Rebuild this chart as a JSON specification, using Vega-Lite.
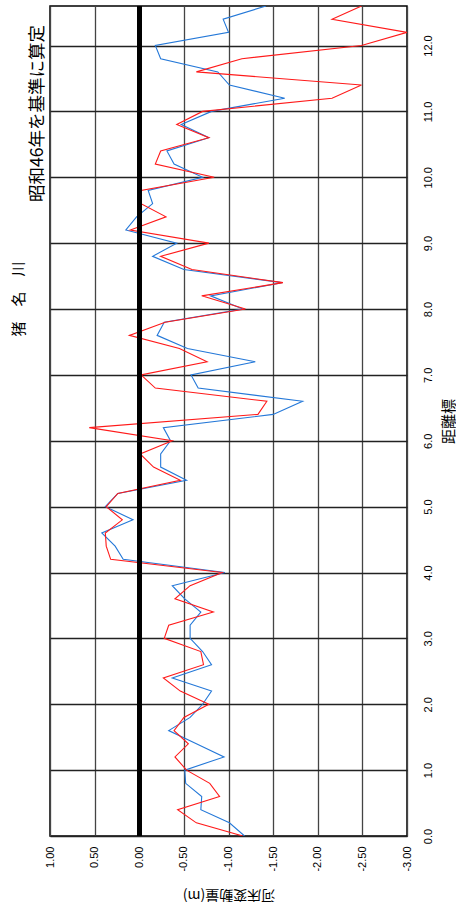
{
  "$schema": "https://vega.github.io/schema/vega-lite/v6.json",
  "width": 357,
  "height": 830,
  "padding": {"left": 11, "top": 4, "right": 0, "bottom": 0},
  "background": "white",
  "config": {
    "view": {"stroke": "black", "strokeWidth": 1.5},
    "font": "Liberation Sans"
  },
  "title": {
    "text": "猪　名　川",
    "orient": "left",
    "anchor": "middle",
    "frame": "group",
    "font": "Noto Sans CJK JP",
    "fontSize": 15,
    "fontWeight": "normal",
    "color": "black",
    "dx": 122,
    "offset": 1
  },
  "data": {
    "values": [
      {"d": 0.0, "v": -1.18, "s": "A"},
      {"d": 0.2, "v": -1.01, "s": "A"},
      {"d": 0.4, "v": -0.69, "s": "A"},
      {"d": 0.6, "v": -0.70, "s": "A"},
      {"d": 0.8, "v": -0.52, "s": "A"},
      {"d": 1.0, "v": -0.51, "s": "A"},
      {"d": 1.2, "v": -0.95, "s": "A"},
      {"d": 1.4, "v": -0.64, "s": "A"},
      {"d": 1.6, "v": -0.33, "s": "A"},
      {"d": 1.8, "v": -0.57, "s": "A"},
      {"d": 2.0, "v": -0.71, "s": "A"},
      {"d": 2.2, "v": -0.81, "s": "A"},
      {"d": 2.4, "v": -0.37, "s": "A"},
      {"d": 2.6, "v": -0.81, "s": "A"},
      {"d": 2.8, "v": -0.71, "s": "A"},
      {"d": 3.0, "v": -0.57, "s": "A"},
      {"d": 3.2, "v": -0.57, "s": "A"},
      {"d": 3.4, "v": -0.69, "s": "A"},
      {"d": 3.6, "v": -0.51, "s": "A"},
      {"d": 3.8, "v": -0.37, "s": "A"},
      {"d": 4.0, "v": -0.96, "s": "A"},
      {"d": 4.2, "v": 0.18, "s": "A"},
      {"d": 4.4, "v": 0.27, "s": "A"},
      {"d": 4.6, "v": 0.42, "s": "A"},
      {"d": 4.8, "v": 0.07, "s": "A"},
      {"d": 5.0, "v": 0.38, "s": "A"},
      {"d": 5.2, "v": 0.24, "s": "A"},
      {"d": 5.4, "v": -0.53, "s": "A"},
      {"d": 5.6, "v": -0.24, "s": "A"},
      {"d": 5.8, "v": -0.24, "s": "A"},
      {"d": 6.0, "v": -0.35, "s": "A"},
      {"d": 6.2, "v": -0.27, "s": "A"},
      {"d": 6.4, "v": -1.50, "s": "A"},
      {"d": 6.6, "v": -1.83, "s": "A"},
      {"d": 6.8, "v": -0.66, "s": "A"},
      {"d": 7.0, "v": -0.58, "s": "A"},
      {"d": 7.2, "v": -1.30, "s": "A"},
      {"d": 7.4, "v": -0.54, "s": "A"},
      {"d": 7.6, "v": -0.20, "s": "A"},
      {"d": 7.8, "v": -0.28, "s": "A"},
      {"d": 8.0, "v": -1.16, "s": "A"},
      {"d": 8.2, "v": -0.80, "s": "A"},
      {"d": 8.4, "v": -1.60, "s": "A"},
      {"d": 8.6, "v": -0.50, "s": "A"},
      {"d": 8.8, "v": -0.15, "s": "A"},
      {"d": 9.0, "v": -0.42, "s": "A"},
      {"d": 9.2, "v": 0.15, "s": "A"},
      {"d": 9.4, "v": 0.03, "s": "A"},
      {"d": 9.6, "v": -0.15, "s": "A"},
      {"d": 9.8, "v": -0.10, "s": "A"},
      {"d": 10.0, "v": -0.71, "s": "A"},
      {"d": 10.2, "v": -0.39, "s": "A"},
      {"d": 10.4, "v": -0.31, "s": "A"},
      {"d": 10.6, "v": -0.78, "s": "A"},
      {"d": 10.8, "v": -0.47, "s": "A"},
      {"d": 11.0, "v": -0.81, "s": "A"},
      {"d": 11.2, "v": -1.63, "s": "A"},
      {"d": 11.4, "v": -1.01, "s": "A"},
      {"d": 11.6, "v": -0.88, "s": "A"},
      {"d": 11.8, "v": -0.24, "s": "A"},
      {"d": 12.0, "v": -0.18, "s": "A"},
      {"d": 12.2, "v": -1.00, "s": "A"},
      {"d": 12.4, "v": -0.94, "s": "A"},
      {"d": 12.6, "v": -1.42, "s": "A"},
      {"d": 0.0, "v": -1.16, "s": "B"},
      {"d": 0.2, "v": -0.64, "s": "B"},
      {"d": 0.4, "v": -0.43, "s": "B"},
      {"d": 0.6, "v": -0.90, "s": "B"},
      {"d": 0.8, "v": -0.79, "s": "B"},
      {"d": 1.0, "v": -0.53, "s": "B"},
      {"d": 1.2, "v": -0.40, "s": "B"},
      {"d": 1.4, "v": -0.55, "s": "B"},
      {"d": 1.6, "v": -0.39, "s": "B"},
      {"d": 1.8, "v": -0.50, "s": "B"},
      {"d": 2.0, "v": -0.78, "s": "B"},
      {"d": 2.2, "v": -0.46, "s": "B"},
      {"d": 2.4, "v": -0.27, "s": "B"},
      {"d": 2.6, "v": -0.72, "s": "B"},
      {"d": 2.8, "v": -0.69, "s": "B"},
      {"d": 3.0, "v": -0.28, "s": "B"},
      {"d": 3.2, "v": -0.33, "s": "B"},
      {"d": 3.4, "v": -0.83, "s": "B"},
      {"d": 3.6, "v": -0.40, "s": "B"},
      {"d": 3.8, "v": -0.57, "s": "B"},
      {"d": 4.0, "v": -0.93, "s": "B"},
      {"d": 4.2, "v": 0.32, "s": "B"},
      {"d": 4.4, "v": 0.37, "s": "B"},
      {"d": 4.6, "v": 0.38, "s": "B"},
      {"d": 4.8, "v": 0.19, "s": "B"},
      {"d": 5.0, "v": 0.37, "s": "B"},
      {"d": 5.2, "v": 0.24, "s": "B"},
      {"d": 5.4, "v": -0.46, "s": "B"},
      {"d": 5.6, "v": -0.16, "s": "B"},
      {"d": 5.8, "v": -0.01, "s": "B"},
      {"d": 6.0, "v": -0.37, "s": "B"},
      {"d": 6.2, "v": 0.56, "s": "B"},
      {"d": 6.4, "v": -1.33, "s": "B"},
      {"d": 6.6, "v": -1.43, "s": "B"},
      {"d": 6.8, "v": -0.18, "s": "B"},
      {"d": 7.0, "v": -0.02, "s": "B"},
      {"d": 7.2, "v": -0.76, "s": "B"},
      {"d": 7.4, "v": -0.45, "s": "B"},
      {"d": 7.6, "v": 0.11, "s": "B"},
      {"d": 7.8, "v": -0.29, "s": "B"},
      {"d": 8.0, "v": -1.19, "s": "B"},
      {"d": 8.2, "v": -0.70, "s": "B"},
      {"d": 8.4, "v": -1.61, "s": "B"},
      {"d": 8.6, "v": -0.59, "s": "B"},
      {"d": 8.8, "v": -0.24, "s": "B"},
      {"d": 9.0, "v": -0.78, "s": "B"},
      {"d": 9.2, "v": 0.10, "s": "B"},
      {"d": 9.4, "v": -0.30, "s": "B"},
      {"d": 9.6, "v": -0.02, "s": "B"},
      {"d": 9.8, "v": -0.02, "s": "B"},
      {"d": 10.0, "v": -0.84, "s": "B"},
      {"d": 10.2, "v": -0.18, "s": "B"},
      {"d": 10.4, "v": -0.24, "s": "B"},
      {"d": 10.6, "v": -0.78, "s": "B"},
      {"d": 10.8, "v": -0.42, "s": "B"},
      {"d": 11.0, "v": -0.71, "s": "B"},
      {"d": 11.2, "v": -2.16, "s": "B"},
      {"d": 11.4, "v": -2.49, "s": "B"},
      {"d": 11.6, "v": -0.64, "s": "B"},
      {"d": 11.8, "v": -1.15, "s": "B"},
      {"d": 12.0, "v": -2.49, "s": "B"},
      {"d": 12.2, "v": -3.00, "s": "B"},
      {"d": 12.4, "v": -2.16, "s": "B"},
      {"d": 12.6, "v": -2.49, "s": "B"}
    ]
  },
  "layer": [
    {
      "mark": {"type": "line", "strokeWidth": 1.1, "clip": true},
      "encoding": {
        "x": {
          "field": "v",
          "type": "quantitative",
          "scale": {"domain": [1, -3], "nice": false, "zero": false},
          "axis": {
            "orient": "bottom",
            "values": [1, 0.5, 0, -0.5, -1, -1.5, -2, -2.5, -3],
            "labelExpr": "replace(format(datum.value, '.2f'), '\u2212', '-')",
            "labelAngle": 270,
            "labelFontSize": 11,
            "labelPadding": 10,
            "labelColor": "black",
            "ticks": false,
            "domain": false,
            "grid": true,
            "gridColor": "#444444",
            "gridWidth": 1.3,
            "title": "河床変動量(m)",
            "titleFont": "Noto Sans CJK JP",
            "titleFontSize": 14,
            "titleFontWeight": "normal",
            "titleColor": "black",
            "titleAngle": 180,
            "titleBaseline": "middle",
            "titlePadding": 23
          }
        },
        "y": {
          "field": "d",
          "type": "quantitative",
          "scale": {"domain": [0, 12.6], "nice": false, "zero": false},
          "axis": {
            "orient": "right",
            "values": [0, 1, 2, 3, 4, 5, 6, 7, 8, 9, 10, 11, 12],
            "format": ".1f",
            "labelAngle": 270,
            "labelFontSize": 11,
            "labelPadding": 15,
            "labelColor": "black",
            "ticks": false,
            "domain": false,
            "grid": true,
            "gridColor": "#222222",
            "gridWidth": 1.3,
            "title": "距離標",
            "titleFont": "Noto Sans CJK JP",
            "titleFontSize": 15,
            "titleFontWeight": "normal",
            "titleColor": "black",
            "titleAngle": 270,
            "titleBaseline": "middle",
            "titlePadding": 15
          }
        },
        "color": {
          "field": "s",
          "type": "nominal",
          "scale": {"domain": ["A", "B"], "range": ["#2478d8", "#ff1a1a"]},
          "legend": null
        },
        "order": {"field": "d", "type": "quantitative"}
      }
    },
    {
      "mark": {"type": "rule", "color": "black", "strokeWidth": 4},
      "encoding": {"x": {"datum": 0}}
    },
    {
      "mark": {"type": "rule", "opacity": 0},
      "encoding": {
        "y": {
          "datum": 0,
          "axis": {
            "orient": "left",
            "labels": false,
            "ticks": false,
            "domain": false,
            "grid": false,
            "title": "昭和46年を基準に算定",
            "titleFont": "Noto Sans CJK JP",
            "titleFontSize": 17.5,
            "titleFontWeight": "normal",
            "titleColor": "black",
            "titleAngle": 270,
            "titleAlign": "center",
            "titleBaseline": "middle",
            "titleY": 107,
            "titlePadding": 13
          }
        }
      }
    }
  ],
  "resolve": {"axis": {"y": "independent"}}
}
